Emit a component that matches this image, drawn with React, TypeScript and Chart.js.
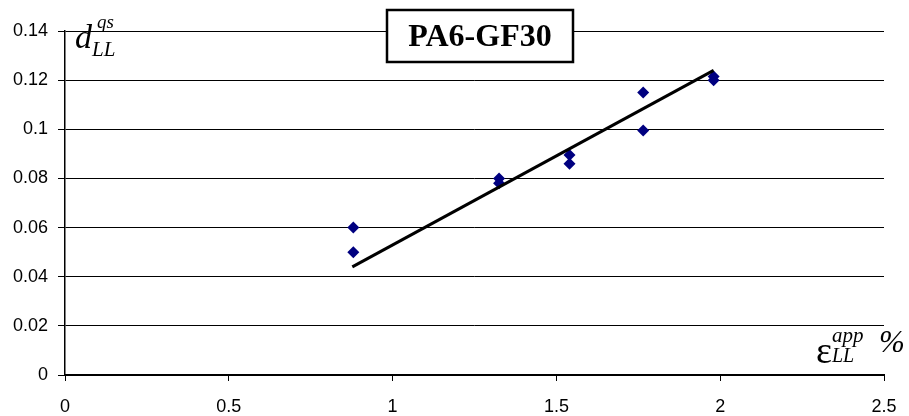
import React, { useEffect, useRef } from "react";
import { Chart, registerables } from "chart.js";

Chart.register(...registerables);

// measured data (strain %, d_LL^qs)
const strainX = [0.88, 0.88, 1.325, 1.325, 1.54, 1.54, 1.765, 1.765, 1.98, 1.98];
const dqsY = [0.06, 0.05, 0.08, 0.078, 0.0895, 0.086, 0.115, 0.0995, 0.1215, 0.12];
// linear trend line end points
const trendX = [0.877, 1.98];
const trendY = [0.044, 0.124];
// axis ticks and labels
const xTicks = [0, 0.5, 1, 1.5, 2, 2.5];
const xTickLabels = ["0", "0.5", "1", "1.5", "2", "2.5"];
const yTicks = [0, 0.02, 0.04, 0.06, 0.08, 0.1, 0.12, 0.14];
const yTickLabels = ["0", "0.02", "0.04", "0.06", "0.08", "0.1", "0.12", "0.14"];
const chartTitle = "PA6-GF30";

const annotations = {
  id: "annotations",
  afterDraw(chart: any) {
    const ctx = chart.ctx as CanvasRenderingContext2D;
    ctx.save();
    // title box
    const bx = 387, by = 10, bw = 186, bh = 52;
    ctx.fillStyle = "#fff";
    ctx.fillRect(bx, by, bw, bh);
    ctx.lineWidth = 2.5;
    ctx.strokeStyle = "#000";
    ctx.strokeRect(bx, by, bw, bh);
    ctx.fillStyle = "#000";
    ctx.font = "bold 32px 'Liberation Serif', 'Times New Roman', serif";
    ctx.textAlign = "center";
    ctx.textBaseline = "alphabetic";
    ctx.fillText(chartTitle, bx + bw / 2, by + 36);

    ctx.textAlign = "left";
    // y label d_LL^qs
    ctx.font = "italic 34px 'Liberation Serif', serif";
    ctx.fillText("d", 75, 48);
    ctx.font = "italic 19px 'Liberation Serif', serif";
    ctx.fillText("qs", 97, 28);
    ctx.font = "italic 21px 'Liberation Serif', serif";
    ctx.fillText("LL", 92, 56);

    // x label eps_LL^app %
    ctx.font = "38px 'Liberation Serif', serif";
    ctx.fillText("\u03b5", 816, 363);
    ctx.font = "italic 21px 'Liberation Serif', serif";
    ctx.fillText("app", 832, 342);
    ctx.font = "italic 20px 'Liberation Serif', serif";
    ctx.fillText("LL", 832, 362);
    ctx.font = "italic 31px 'Liberation Serif', serif";
    ctx.fillText("%", 879, 352);
    ctx.restore();
  },
};

export default function App() {
  const ref = useRef<HTMLCanvasElement>(null);
  useEffect(() => {
    if (!ref.current) return;
    const tickFont = { family: "'Liberation Sans', Arial, sans-serif", size: 18 };
    const chart = new Chart(ref.current, {
      type: "scatter",
      data: {
        datasets: [
          {
            label: "trend",
            data: trendX.map((x, i) => ({ x, y: trendY[i] })),
            showLine: true,
            borderColor: "#000",
            borderWidth: 3,
            pointRadius: 0,
            fill: false,
          },
          {
            label: "data",
            data: strainX.map((x, i) => ({ x, y: dqsY[i] })),
            pointStyle: "rectRot",
            pointRadius: 6,
            backgroundColor: "#000080",
            borderColor: "#000080",
            borderWidth: 0,
          },
        ],
      },
      options: {
        responsive: false,
        animation: false,
        layout: { padding: { top: 31, right: 25, left: 0, bottom: 0 } },
        plugins: { legend: { display: false }, tooltip: { enabled: false }, title: { display: false } },
        scales: {
          x: {
            type: "linear",
            min: 0,
            max: 2.5,
            afterBuildTicks: (axis: any) => {
              axis.ticks = xTicks.map((v) => ({ value: v }));
            },
            afterFit: (axis: any) => {
              axis.height = 41;
              axis.paddingLeft = 0;
              axis.paddingRight = 0;
            },
            ticks: {
              color: "#000",
              font: tickFont,
              padding: 15,
              maxRotation: 0,
              callback: (_v: any, i: number) => xTickLabels[i],
            },
            grid: { drawOnChartArea: false, drawTicks: true, tickLength: 6, color: "#000" },
            border: { color: "#000", width: 2 },
          },
          y: {
            type: "linear",
            min: 0,
            max: 0.14,
            afterBuildTicks: (axis: any) => {
              axis.ticks = yTicks.map((v) => ({ value: v }));
            },
            afterFit: (axis: any) => {
              axis.width = 65;
              axis.paddingTop = 0;
              axis.paddingBottom = 0;
            },
            ticks: {
              color: "#000",
              font: tickFont,
              padding: 10,
              callback: (_v: any, i: number) => yTickLabels[i],
            },
            grid: { color: "#000", lineWidth: 1, tickLength: 7 },
            border: { color: "#000", width: 1.5 },
          },
        },
      },
      plugins: [annotations],
    });
    return () => chart.destroy();
  }, []);
  return (
    <div style={{ position: "fixed", left: 0, top: 0, width: 909, height: 416, background: "#fff" }}>
      <canvas ref={ref} width={909} height={416} style={{ display: "block" }} />
    </div>
  );
}
